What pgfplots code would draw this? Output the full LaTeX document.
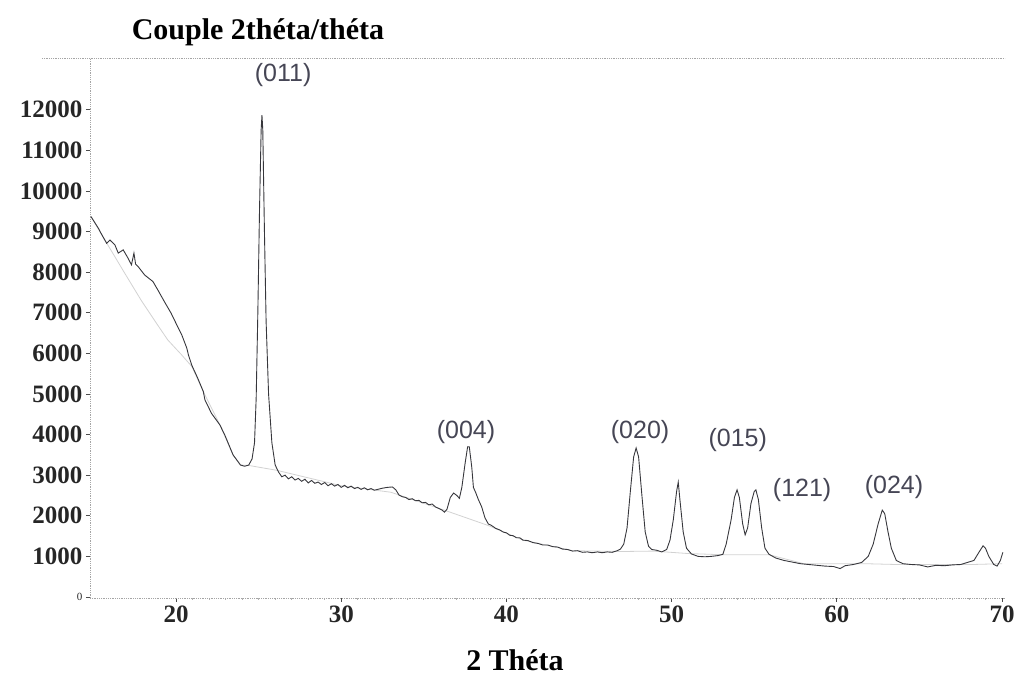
\documentclass[border=0pt]{standalone}
\usepackage{fontspec}
\setmainfont{Liberation Serif}
\newfontfamily\sansf{Liberation Sans}
\usepackage{pgfplots}
\pgfplotsset{compat=1.18}
\definecolor{curve}{RGB}{55,55,60}
\definecolor{bgline}{RGB}{210,210,210}
\definecolor{lbl}{RGB}{70,70,85}
\definecolor{frame}{RGB}{165,165,165}

\begin{document}
\begin{tikzpicture}
\begin{axis}[
  at={(0,0)}, anchor=south west,
  scale only axis, width=915pt, height=540pt,
  xmin=14.79, xmax=70.18, ymin=-25, ymax=13276,
  scaled y ticks=false, scaled x ticks=false,
  axis x line*=bottom, axis y line*=left,
  axis line style={draw=frame, densely dotted, line width=0.8pt},
  xtick={20,30,...,70}, minor x tick num=9,
  xticklabels={20,30,40,50,60,70},
  ytick={0,1000,...,12000},
  yticklabels={{\fontsize{11}{11}\selectfont\mdseries 0},1000,2000,3000,4000,5000,6000,7000,8000,9000,10000,11000,12000},
  tick label style={font=\fontsize{25}{25}\selectfont\bfseries, color=black!85},
  tick align=outside,
  major tick length=4pt, minor tick length=2pt,
  every tick/.style={black!70, line width=0.8pt},
  every minor tick/.style={gray!60, line width=0.8pt},
  clip=false,
]
% fitted background (faint)
\addplot[bgline, line width=0.8pt] coordinates {
  (14.85,9370)(15.9,8650)(16.9,7970)(17.9,7300)(18.8,6750)(19.5,6330)
  (20.3,5980)(20.95,5680)(21.65,5060)(22.65,4240)(23.45,3500)(23.9,3250)
  (24.4,3240)(26.1,3120)(30,2740)(33,2580)(36.3,2130)(38.9,1760)(41,1400)
  (44,1140)(47,1120)(48.8,1130)(49.6,1110)(51,1070)(53.1,1040)(55.9,1040)
  (58,820)(61.7,820)(63.6,800)(68.2,800)(70,820)
};
% measured pattern
\addplot[curve, line width=0.9pt] coordinates {
  (14.85,9370)(15.3,9080)(15.4,9000)(15.8,8710)(16.0,8790)(16.3,8670)
  (16.5,8470)(16.8,8550)(17.1,8340)(17.3,8180)(17.45,8470)(17.55,8200)
  (17.7,8140)(18.1,7930)(18.6,7770)(18.9,7560)(19.3,7270)(19.7,6990)
  (19.95,6780)(20.35,6450)(20.65,6130)(20.75,5960)(20.95,5710)(21.3,5400)
  (21.65,5060)(21.75,4850)(22.15,4520)(22.65,4240)(22.95,3990)(23.45,3500)
  (23.9,3250)(24.15,3220)(24.4,3250)(24.6,3400)(24.75,3800)(24.85,4900)
  (24.95,7000)(25.05,9500)(25.15,11500)(25.2,11870)(25.25,11500)
  (25.35,9000)(25.45,6800)(25.6,5000)(25.8,3800)(26.0,3250)(26.2,3080)
  (26.4,2960)(26.6,3000)(26.8,2910)(27.0,2960)(27.2,2880)(27.4,2920)
  (27.6,2850)(27.8,2900)(28.0,2810)(28.2,2870)(28.4,2800)(28.6,2830)
  (28.8,2770)(29.0,2820)(29.2,2740)(29.4,2790)(29.6,2730)(29.8,2770)
  (30.0,2700)(30.2,2750)(30.4,2690)(30.6,2730)(30.8,2670)(31.0,2700)
  (31.2,2650)(31.4,2690)(31.6,2640)(31.8,2670)(32.0,2630)(32.2,2650)
  (32.5,2680)(32.8,2700)(33.1,2710)(33.3,2640)(33.5,2510)(33.7,2470)
  (33.9,2450)(34.1,2400)(34.3,2420)(34.5,2370)(34.7,2380)(34.9,2320)
  (35.1,2330)(35.3,2270)(35.5,2290)(35.7,2220)(35.9,2180)(36.1,2140)
  (36.25,2090)(36.4,2160)(36.6,2450)(36.8,2560)(37.0,2500)(37.15,2430)
  (37.3,2700)(37.5,3300)(37.65,3700)(37.75,3700)(37.9,3200)(38.0,2700)
  (38.15,2560)(38.3,2400)(38.5,2220)(38.7,1950)(38.9,1800)(39.1,1760)
  (39.35,1690)(39.6,1650)(39.8,1600)(40.0,1580)(40.2,1520)(40.4,1510)
  (40.6,1460)(40.8,1460)(41.0,1400)(41.3,1390)(41.6,1340)(41.9,1320)
  (42.2,1280)(42.5,1280)(42.8,1240)(43.1,1230)(43.4,1180)(43.7,1170)
  (44.0,1130)(44.3,1140)(44.6,1100)(44.9,1110)(45.2,1090)(45.5,1110)
  (45.8,1090)(46.1,1110)(46.4,1100)(46.7,1140)(46.9,1180)
  (47.1,1300)(47.3,1700)(47.5,2600)(47.7,3450)(47.85,3670)(48.0,3450)
  (48.2,2500)(48.4,1600)(48.6,1250)(48.8,1170)(49.1,1150)(49.4,1110)
  (49.7,1170)(49.9,1400)(50.1,1900)(50.3,2600)(50.4,2830)(50.5,2400)
  (50.7,1600)(50.9,1200)(51.2,1060)(51.6,1000)(52.0,990)(52.4,1000)
  (52.8,1020)(53.1,1050)(53.3,1300)(53.6,1900)(53.8,2450)(53.96,2640)
  (54.1,2450)(54.3,1800)(54.45,1530)(54.6,1700)(54.8,2300)(55.0,2600)
  (55.1,2640)(55.25,2400)(55.45,1700)(55.65,1200)(55.9,1050)(56.3,960)
  (56.8,900)(57.3,860)(57.8,820)(58.3,800)(58.8,780)(59.3,760)(59.8,750)
  (60.2,700)(60.5,770)(61.0,800)(61.5,850)(61.9,1000)(62.2,1300)(62.5,1800)
  (62.75,2140)(62.9,2050)(63.1,1600)(63.3,1200)(63.6,900)(64.0,820)
  (64.5,800)(65.0,790)(65.5,740)(66.0,780)(66.5,770)(67.0,790)(67.5,800)
  (67.9,850)(68.3,900)(68.6,1100)(68.85,1260)(69.0,1200)(69.2,1000)
  (69.5,800)(69.7,760)(69.9,900)(70.05,1100)
};
% peak indexing
\begin{scope}[every node/.style={lbl, font=\sansf\fontsize{25}{25}\selectfont}]
  \node at (axis cs:26.48,12860) {(011)};
  \node at (axis cs:37.55,4060) {(004)};
  \node at (axis cs:48.09,4060) {(020)};
  \node at (axis cs:54.0,3870) {(015)};
  \node at (axis cs:57.9,2640) {(121)};
  \node at (axis cs:63.46,2710) {(024)};
\end{scope}
\end{axis}
% title, separator rule, axis label
\draw[frame, densely dotted, line width=0.8pt] (-48pt,540pt) -- (915pt,540pt);
\node[font=\fontsize{30}{30}\selectfont\bfseries] at (168pt,566pt) {Couple 2théta/théta};
\node[font=\fontsize{30}{30}\selectfont\bfseries] at (425pt,-62pt) {2 Théta};
\pgfresetboundingbox
\path[use as bounding box] (-90pt,-89pt) rectangle (925pt,598pt);
\end{tikzpicture}
\end{document}
